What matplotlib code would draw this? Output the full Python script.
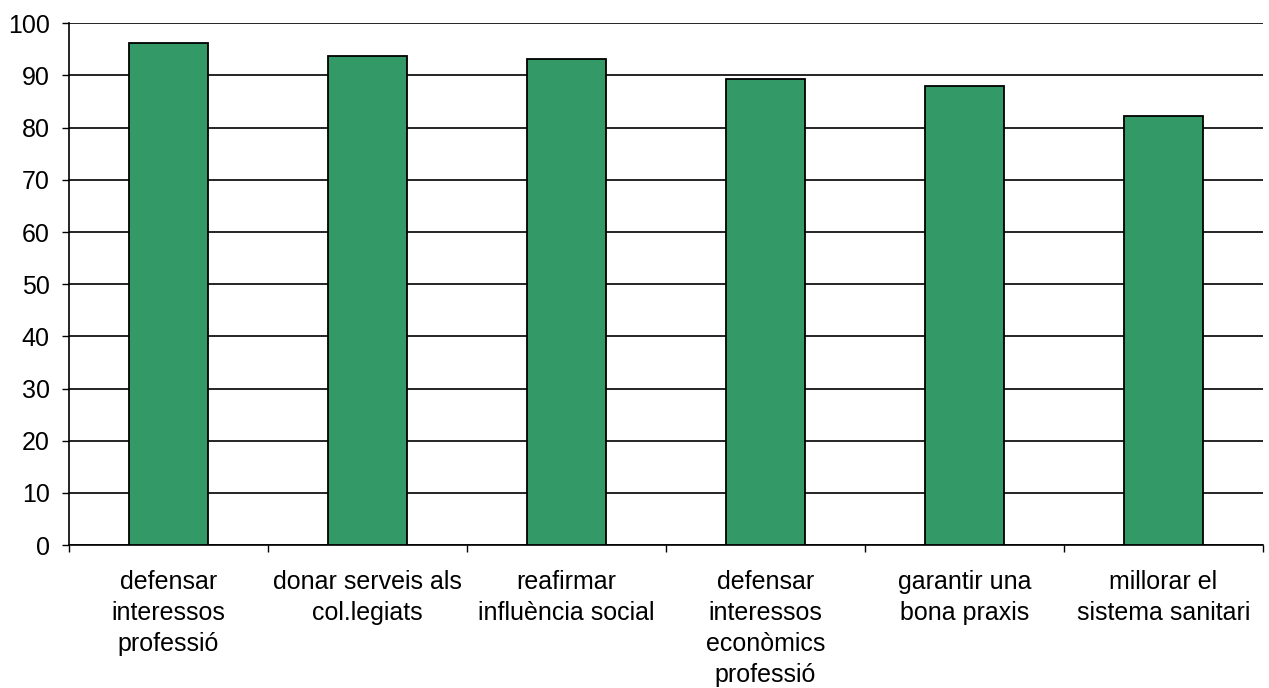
import matplotlib
matplotlib.use("Agg")
import matplotlib.pyplot as plt
import numpy as np

plt.rcParams['font.family'] = ['Liberation Sans', 'DejaVu Sans']

categories = [
    "defensar\ninteressos\nprofessió",
    "donar serveis als\ncol.legiats",
    "reafirmar\ninfluència social",
    "defensar\ninteressos\neconòmics\nprofessió",
    "garantir una\nbona praxis",
    "millorar el\nsistema sanitari",
]
values = [96.2, 93.8, 93.2, 89.3, 88.0, 82.2]
yticks = list(range(0, 101, 10))

fig = plt.figure(figsize=(12.69, 6.88), dpi=100)
ax = fig.add_axes([0.0544, 0.2078, 0.9409, 0.7583])

x = np.arange(len(categories))
ax.bar(x, values, width=0.4, color="#339966", edgecolor="black", linewidth=1.3, zorder=3)

ax.set_xlim(-0.5, len(categories) - 0.5)
ax.set_ylim(0, 100)
ax.set_yticks(yticks)
ax.yaxis.grid(True, color="black", linewidth=1.2, zorder=0)
ax.set_axisbelow(True)

ax.set_xticks(x)
ax.set_xticklabels(categories, fontsize=18, linespacing=1.37)
ax.set_xticks(np.arange(-0.5, len(categories)), minor=True)
ax.tick_params(axis="x", which="major", length=0, pad=18)
ax.tick_params(axis="x", which="minor", length=5, width=1, color="black")
ax.tick_params(axis="y", length=5, width=1, pad=9, labelsize=18)

for side in ("top", "right"):
    ax.spines[side].set_visible(False)
ax.spines["left"].set_linewidth(1.2)
ax.spines["bottom"].set_linewidth(1.2)

fig.savefig("out.png", dpi=100)
